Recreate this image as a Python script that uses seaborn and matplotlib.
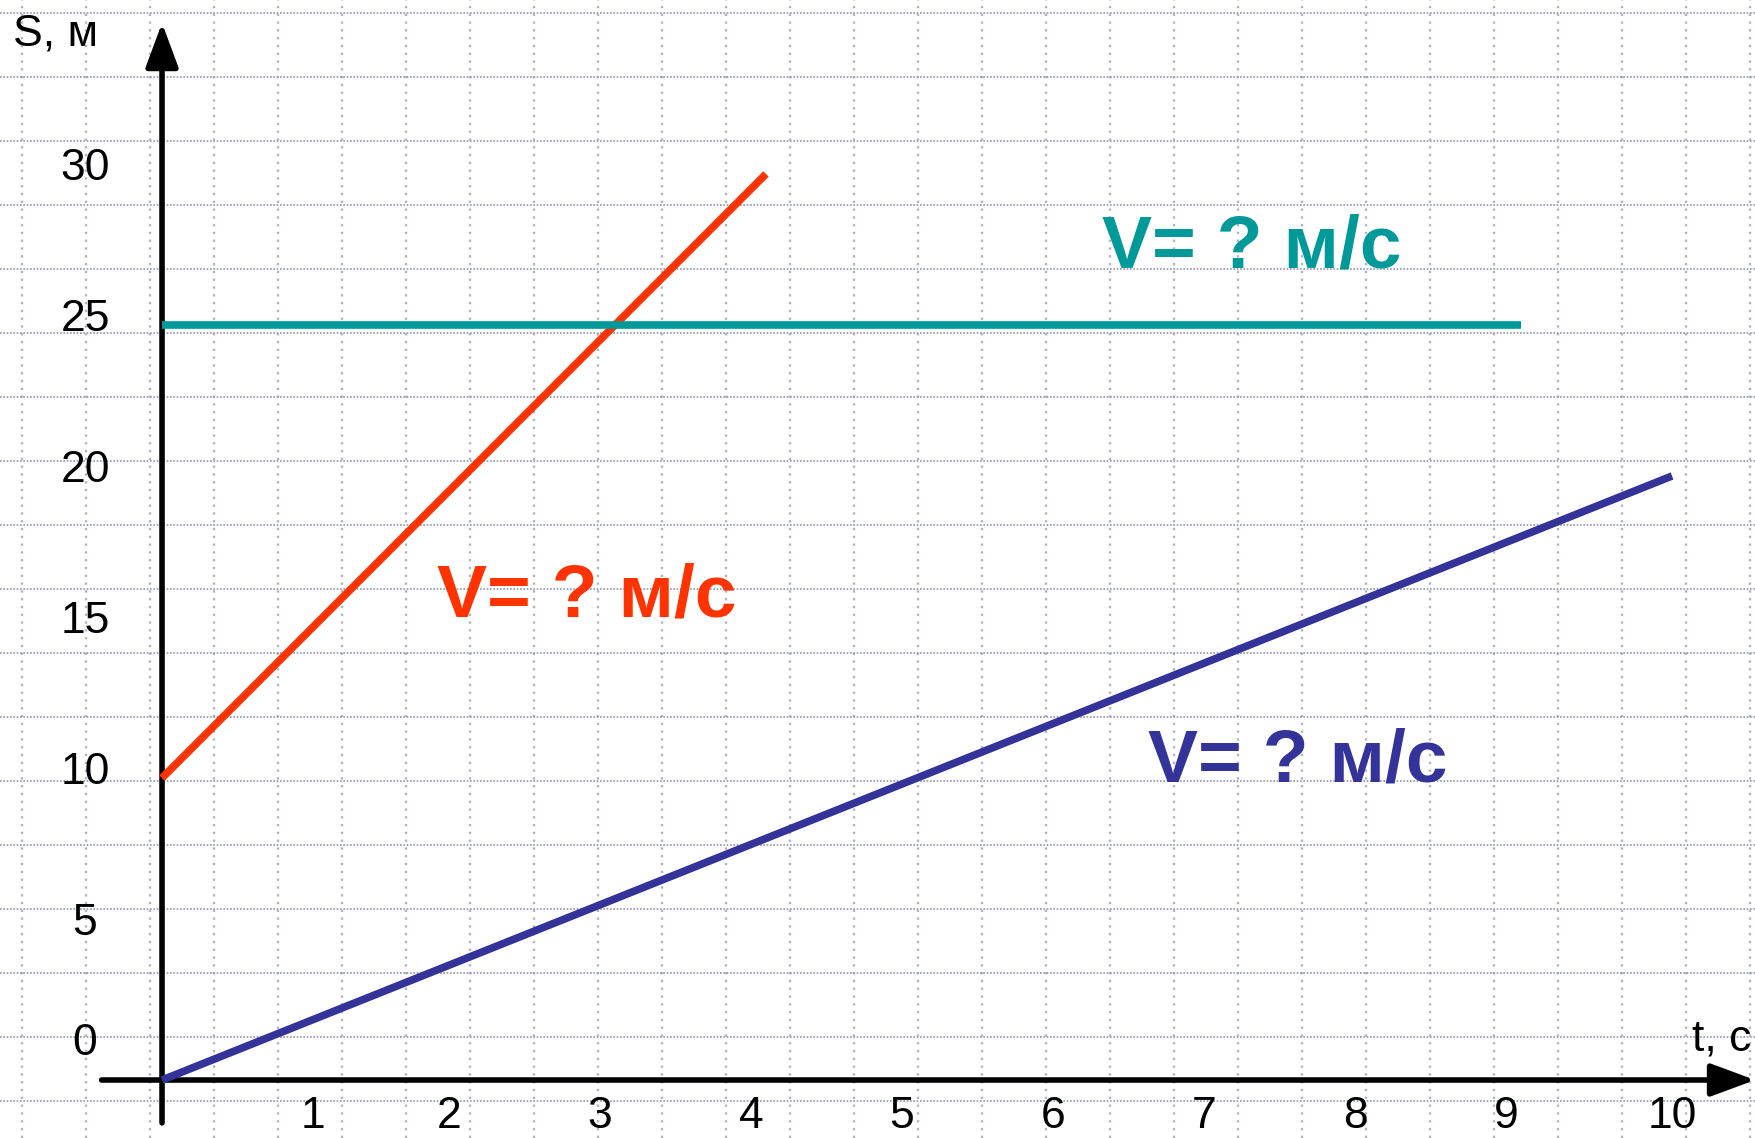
import numpy as np
import pandas as pd
import matplotlib
matplotlib.use("Agg")
import matplotlib.pyplot as plt
import seaborn as sns

# distance-time graphs (t in seconds, S in metres)
t_red = [0, 4]
s_red = [10, 30]
t_teal = [0, 9]
s_teal = [25, 25]
t_blue = [0, 10]
s_blue = [0, 20]

x_ticks = [1, 2, 3, 4, 5, 6, 7, 8, 9, 10]
y_ticks = [0, 5, 10, 15, 20, 25, 30]
speed_label = "V= ? м/с"

sns.set_style("white")
plt.rcParams['font.family'] = ['Liberation Sans', 'DejaVu Sans']
plt.rcParams['text.color'] = 'black'

W, H = 1756, 1138
fig = plt.figure(figsize=(W / 100, H / 100), dpi=100)

# squared paper in the background (pixel coordinates)
bg = fig.add_axes([0, 0, 1, 1])
bg.set_xlim(0, W)
bg.set_ylim(H, 0)
bg.axis('off')
grid_col = '#8e96b0'
for y in np.arange(13, H, 64):
    bg.axhline(y, color=grid_col, lw=1.2, ls=(0, (1, 1)))
for x in np.arange(22, W, 64):
    bg.axvline(x, color=grid_col, lw=1.7, ls=(0, (1, 2.3)), alpha=0.7)

# main axes in data units, spread over the whole figure
ax = fig.add_axes([0, 0, 1, 1])
ax.patch.set_alpha(0)
ax.set_xlim(-1.073, 10.556)
ax.set_ylim(-1.92, 35.76)
ax.axis('off')

df = pd.concat([
    pd.DataFrame({'t': t_red, 'S': s_red, 'line': 'red'}),
    pd.DataFrame({'t': t_teal, 'S': s_teal, 'line': 'teal'}),
    pd.DataFrame({'t': t_blue, 'S': s_blue, 'line': 'blue'}),
])
palette = {'red': '#ff3300', 'teal': '#009999', 'blue': '#333399'}
sns.lineplot(data=df, x='t', y='S', hue='line', palette=palette, lw=5.5,
             legend=False, ax=ax, zorder=4, solid_capstyle='butt')

# axis arrows
arrow = dict(arrowstyle='-|>,head_length=1.35,head_width=0.5', lw=4,
             color='black', mutation_scale=20, shrinkA=0, shrinkB=0)
ax.annotate('', xy=(10.55, 0), xytext=(-0.40, 0), arrowprops=arrow,
            zorder=3, annotation_clip=False)
ax.annotate('', xy=(0, 35.0), xytext=(0, -1.42), arrowprops=arrow,
            zorder=3, annotation_clip=False)

ax.text(-0.987, 34.27, 'S, м', fontsize=32, ha='left', va='baseline')
ax.text(10.13, 0.99, 't, с', fontsize=32, ha='left', va='baseline')

for t in x_ticks:
    # labels between 1 and 10 sit a little left of their grid value
    xpos = t if t in (1, 10) else t - 0.1
    ax.text(xpos, -1.59, str(t), fontsize=32, ha='center', va='baseline')
for s in y_ticks:
    ypos = 1.2 if s == 0 else s + 0.17
    ax.text(-0.51, ypos, str(s), fontsize=32, ha='center', va='center')

ax.text(6.224, 26.89, speed_label, color=palette['teal'], fontsize=54,
        fontweight='bold', ha='left', va='baseline')
ax.text(1.821, 15.36, speed_label, color=palette['red'], fontsize=54,
        fontweight='bold', ha='left', va='baseline')
ax.text(6.53, 9.87, speed_label, color=palette['blue'], fontsize=54,
        fontweight='bold', ha='left', va='baseline')

fig.savefig('out.png', dpi=100)
